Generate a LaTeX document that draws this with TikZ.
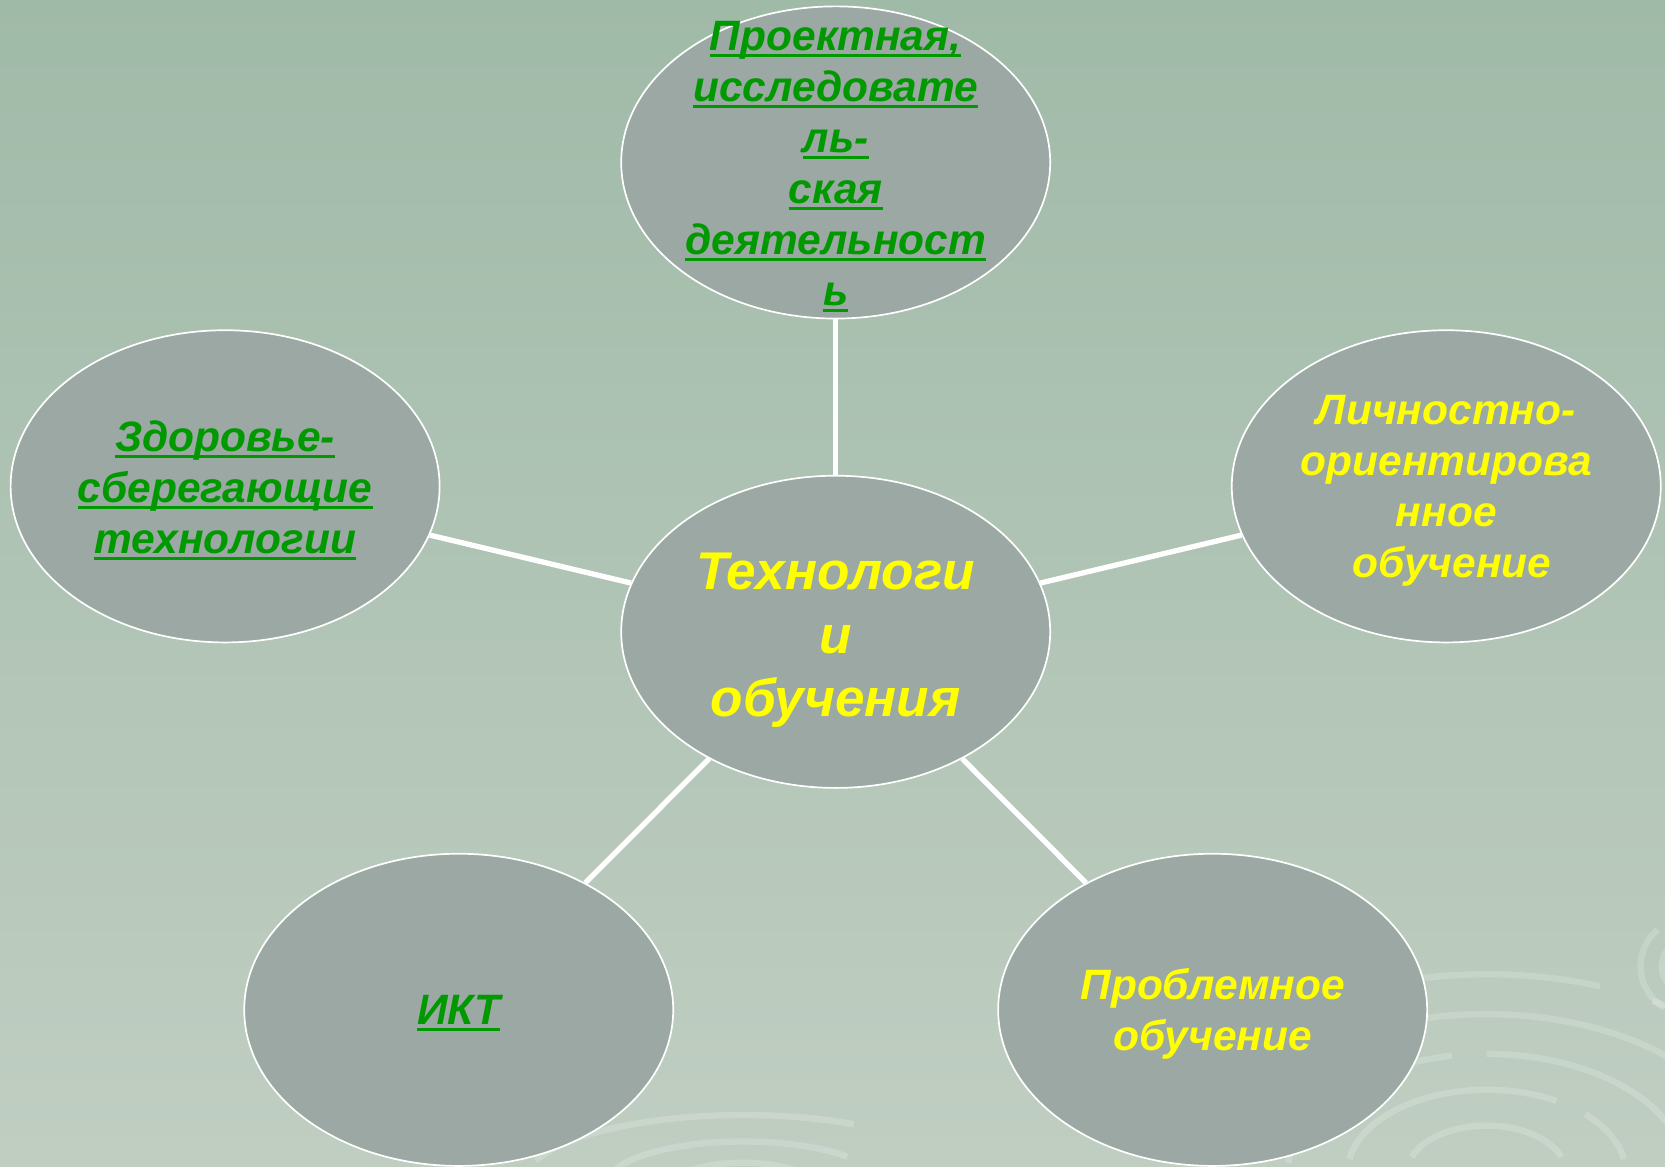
\documentclass[tikz,border=0pt]{standalone}
\usepackage{fontspec}
\setmainfont{Liberation Sans}
\usetikzlibrary{shapes.geometric}
\definecolor{bgtop}{RGB}{160,186,168}
\definecolor{bgbot}{RGB}{192,206,194}
\definecolor{ellfill}{RGB}{155,168,163}
\definecolor{txtgreen}{RGB}{0,153,0}
\definecolor{txtyellow}{RGB}{255,255,0}
\newcommand\myul[1]{\setbox0=\hbox{#1}\rlap{\color{txtgreen}\rule[-6pt]{\wd0}{3pt}}\box0}
\tikzset{
  bubble/.style={ellipse, draw=white, line width=1.6pt, fill=ellfill, minimum width=404pt, minimum height=294pt, inner sep=0pt},
  link/.style={draw=white, line width=5pt},
  gtext/.style={align=center, text=txtgreen, font=\fontsize{40}{48}\selectfont\bfseries\itshape},
  ytext/.style={align=center, text=txtyellow, font=\fontsize{40}{48}\selectfont\bfseries\itshape},
  ctext/.style={align=center, text=txtyellow, font=\fontsize{50}{60}\selectfont\bfseries\itshape},
  swirl/.style={draw=white, draw opacity=0.18, line width=6pt}
}
\begin{document}
\begin{tikzpicture}[x=1pt,y=-1pt]
\shade[top color=bgtop, bottom color=bgbot] (0,0) rectangle (1568,1099);
\useasboundingbox (0,0) rectangle (1568,1099);
% faint background swirls
\begin{scope}
\clip (0,0) rectangle (1568,1099);
\foreach \r/\s/\e in {60/200/340, 105/190/300, 105/315/350, 150/185/260, 150/270/345, 200/180/235, 200/250/330, 250/195/290, 250/300/340}{
  \draw[swirl] (1400,1105) ++(\s:\r*1.25 and \r*0.75) arc[start angle=\s, end angle=\e, x radius=\r*1.25, y radius=\r*0.75];
}
\foreach \r/\s/\e in {40/200/340, 80/190/320, 130/200/300}{
  \draw[swirl] (700,1115) ++(\s:\r*1.6 and \r*0.5) arc[start angle=\s, end angle=\e, x radius=\r*1.6, y radius=\r*0.5];
}
\foreach \r/\s/\e in {25/100/250, 45/120/230}{
  \draw[swirl] (1590,910) ++(\s:\r) arc[start angle=\s, end angle=\e, radius=\r];
}
\end{scope}
% bubbles
\node[bubble] (c)  at (787,595) {};
\node[bubble] (t)  at (787,153) {};
\node[bubble] (l)  at (212,458) {};
\node[bubble] (r)  at (1362,458) {};
\node[bubble] (bl) at (432,951) {};
\node[bubble] (br) at (1142,951) {};
% connectors
\draw[link] (c) -- (t);
\draw[link] (c) -- (l);
\draw[link] (c) -- (r);
\draw[link] (c) -- (bl);
\draw[link] (c) -- (br);
% texts
\node[ctext] (ct) at (787,603) {Технологи\\и\\обучения};
\node[gtext] (tt) at (787,157) {\myul{Проектная,}\\\myul{исследовате}\\\myul{ль-}\\\myul{ская}\\\myul{деятельност}\\\myul{ь}};
\node[gtext] (lt) at (212,462) {\myul{Здоровье-}\\\myul{сберегающие}\\\myul{технологии}};
\node[ytext] (rt) at (1362,462) {Личностно-\\ориентирова\\нное\\\ обучение};
\node[gtext] (blt) at (432,954) {\myul{ИКТ}};
\node[ytext] (brt) at (1142,955) {Проблемное\\обучение};
\end{tikzpicture}
\end{document}
